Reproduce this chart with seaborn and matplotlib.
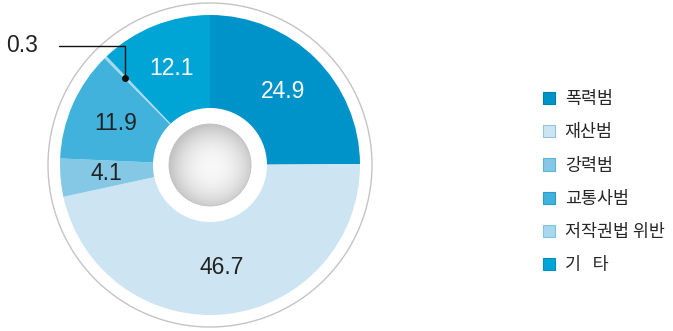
import numpy as np
import matplotlib
matplotlib.use("Agg")
import matplotlib.pyplot as plt
from matplotlib.patches import Circle, Patch
import seaborn as sns

# ── data ─────────────────────────────────────────────
categories = ["폭력범", "재산범", "강력범", "교통사범", "저작권법 위반", "기   타"]
values = [24.9, 46.7, 4.1, 11.9, 0.3, 12.1]
labels = ["24.9", "46.7", "4.1", "11.9", "0.3", "12.1"]

colors = ["#0093c9", "#cde5f2", "#85c8e6", "#40b2dc", "#a8d8ee", "#00a5d5"]
edge_colors = ["#0080b0", "#8fc3de", "#5fb2d8", "#2a9cc8", "#7fc2e2", "#008fc0"]
text_colors = ["white", "#222222", "#222222", "#222222", "#222222", "white"]

sns.set_theme(style="white")
plt.rcParams["font.family"] = ["Noto Sans CJK KR", "DejaVu Sans"]
NUM_FONT = ["Liberation Sans", "DejaVu Sans"]

W, H = 673, 331
fig = plt.figure(figsize=(W / 100, H / 100), dpi=100)
ax = fig.add_axes([0, 0, 1, 1])
ax.set_xlim(0, W)
ax.set_ylim(0, H)
ax.set_aspect("equal")
ax.axis("off")

cx, cy = 210, 166
R_out, R_in = 150, 57

# outer ring
ax.add_patch(Circle((cx, cy), 162, facecolor="white", edgecolor="#c4c4c4", lw=1.0, zorder=0))

wedges, texts = ax.pie(values, colors=colors, startangle=90, counterclock=False,
                       center=(cx, cy), radius=R_out, labels=labels, labeldistance=0.69,
                       wedgeprops=dict(width=R_out - R_in, edgecolor="none"),
                       textprops=dict(fontsize=16.5, family=NUM_FONT))
ax.set_xlim(0, W)
ax.set_ylim(0, H)

for t, c in zip(texts, text_colors):
    t.set_color(c)
    t.set_ha("center")
    t.set_va("center")

# small slice: label with leader line
small = values.index(0.3)
texts[small].set_visible(False)
w = wedges[small]
ang = np.deg2rad((w.theta1 + w.theta2) / 2)
px, py = cx + 0.81 * R_out * np.cos(ang), cy + 0.81 * R_out * np.sin(ang)
ax.plot([px], [py], "o", color="#111111", ms=4, zorder=5)
ax.annotate(labels[small], xy=(px, py), xytext=(22, 285), ha="center", va="center",
            fontsize=16.5, family=NUM_FONT, color="#222222",
            arrowprops=dict(arrowstyle="-", color="#111111", lw=1,
                            shrinkA=13, shrinkB=0,
                            connectionstyle="angle,angleA=0,angleB=90,rad=0"))

# center sphere with radial gradient
r_s = 41
n = 300
yy, xx = np.mgrid[-1:1:n * 1j, -1:1:n * 1j]
d = np.sqrt((xx - 0.05) ** 2 + (yy + 0.05) ** 2)
shade = np.clip(0.97 - 0.19 * d ** 2.2, 0.76, 1.0)
im = ax.imshow(shade, cmap="gray", vmin=0, vmax=1, origin="lower",
               extent=(cx - r_s, cx + r_s, cy - r_s, cy + r_s), zorder=3)
clip = Circle((cx, cy), r_s, transform=ax.transData)
im.set_clip_path(clip)
ax.add_patch(Circle((cx, cy), r_s, facecolor="none", edgecolor="#c2c2c2", lw=0.6, zorder=4))

# legend
handles = [Patch(facecolor=c, edgecolor=e, lw=0.8) for c, e in zip(colors, edge_colors)]
ax.legend(handles, categories, loc="upper left", bbox_to_anchor=(543, 241),
          bbox_transform=ax.transData, frameon=False, fontsize=12.5,
          handlelength=0.7, handleheight=0.7, handletextpad=0.55,
          labelspacing=0.88, borderpad=0, borderaxespad=0)

fig.savefig("out.png", dpi=100)
